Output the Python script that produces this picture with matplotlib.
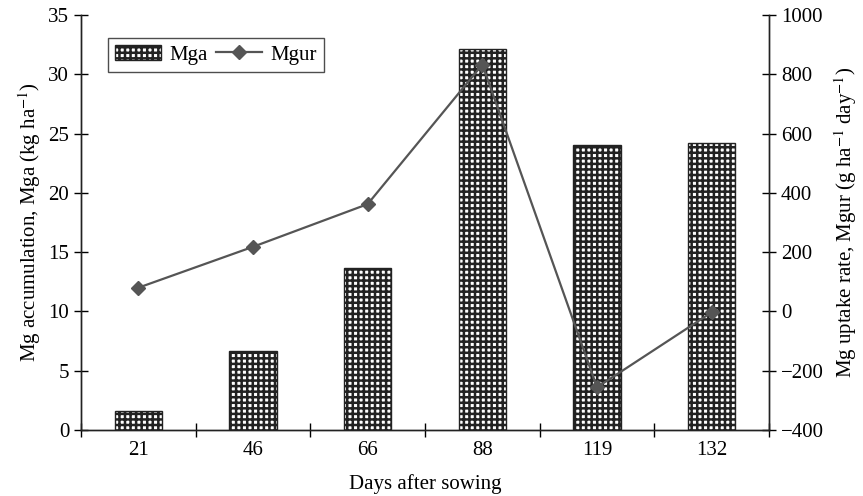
import matplotlib.pyplot as plt
import numpy as np

plt.rcParams['font.family'] = ['Liberation Serif', 'DejaVu Serif']
plt.rcParams['mathtext.fontset'] = 'stix'
plt.rcParams['hatch.linewidth'] = 1.8

# Mg accumulation (kg/ha) and uptake rate (g/ha/day) at each sampling date
days = ['21', '46', '66', '88', '119', '132']
mga = [1.6, 6.7, 13.7, 32.1, 24.0, 24.2]
mgur = [80, 218, 362, 833, -256, -3]

x = np.arange(len(days))
fs = 15

fig = plt.figure(figsize=(8.63, 4.96), dpi=100)
ax = fig.add_axes([81 / 863, 66 / 496, 688 / 863, 415 / 496])
ax2 = ax.twinx()

bars = ax.bar(x, mga, width=0.41, facecolor='white', edgecolor='#222222',
              hatch='+++', linewidth=1.0, label='Mga', zorder=2)
line, = ax2.plot(x, mgur, color='#555555', lw=1.6, marker='D', ms=7,
                 label='Mgur', zorder=3)

ax.set_xlim(-0.5, len(days) - 0.5)
ax.set_ylim(0, 35)
ax.set_yticks(np.arange(0, 36, 5))
ax2.set_ylim(-400, 1000)
ax2.set_yticks(np.arange(-400, 1001, 200))

# category labels centred, tick marks on the boundaries
ax.set_xticks(np.arange(-0.5, len(days)), minor=False)
ax.set_xticklabels([])
ax.set_xticks(x, minor=True)
ax.set_xticklabels(days, minor=True)
ax.tick_params(axis='x', which='major', direction='inout', length=10, width=1)
ax.tick_params(axis='x', which='minor', length=0, labelsize=fs, pad=8)
ax.tick_params(axis='y', direction='inout', length=10, width=1, labelsize=fs)
ax2.tick_params(axis='y', direction='inout', length=10, width=1, labelsize=fs)

for a in (ax, ax2):
    a.spines['top'].set_visible(False)
    for s in ('left', 'right', 'bottom'):
        a.spines[s].set_linewidth(1.0)
        a.spines[s].set_color('#222222')

ax.set_xlabel('Days after sowing', fontsize=fs, labelpad=10)
ax.set_ylabel('Mg accumulation, Mga (kg ha$^{-1}$)', fontsize=fs, labelpad=4)
ax2.set_ylabel('Mg uptake rate, Mgur (g ha$^{-1}$ day$^{-1}$)', fontsize=fs, labelpad=6)

ax2.set_zorder(ax.get_zorder() + 1)
ax2.patch.set_visible(False)

leg = ax2.legend([bars, line], ['Mga', 'Mgur'], ncol=2, loc='upper left',
                 bbox_to_anchor=(0.03, 0.96), fontsize=fs, frameon=True,
                 fancybox=False, edgecolor='#222222', handlelength=2.2,
                 columnspacing=0.4, handletextpad=0.4, borderpad=0.35,
                 borderaxespad=0.3)
leg.get_frame().set_linewidth(1.0)

fig.savefig('out.png', dpi=100)
